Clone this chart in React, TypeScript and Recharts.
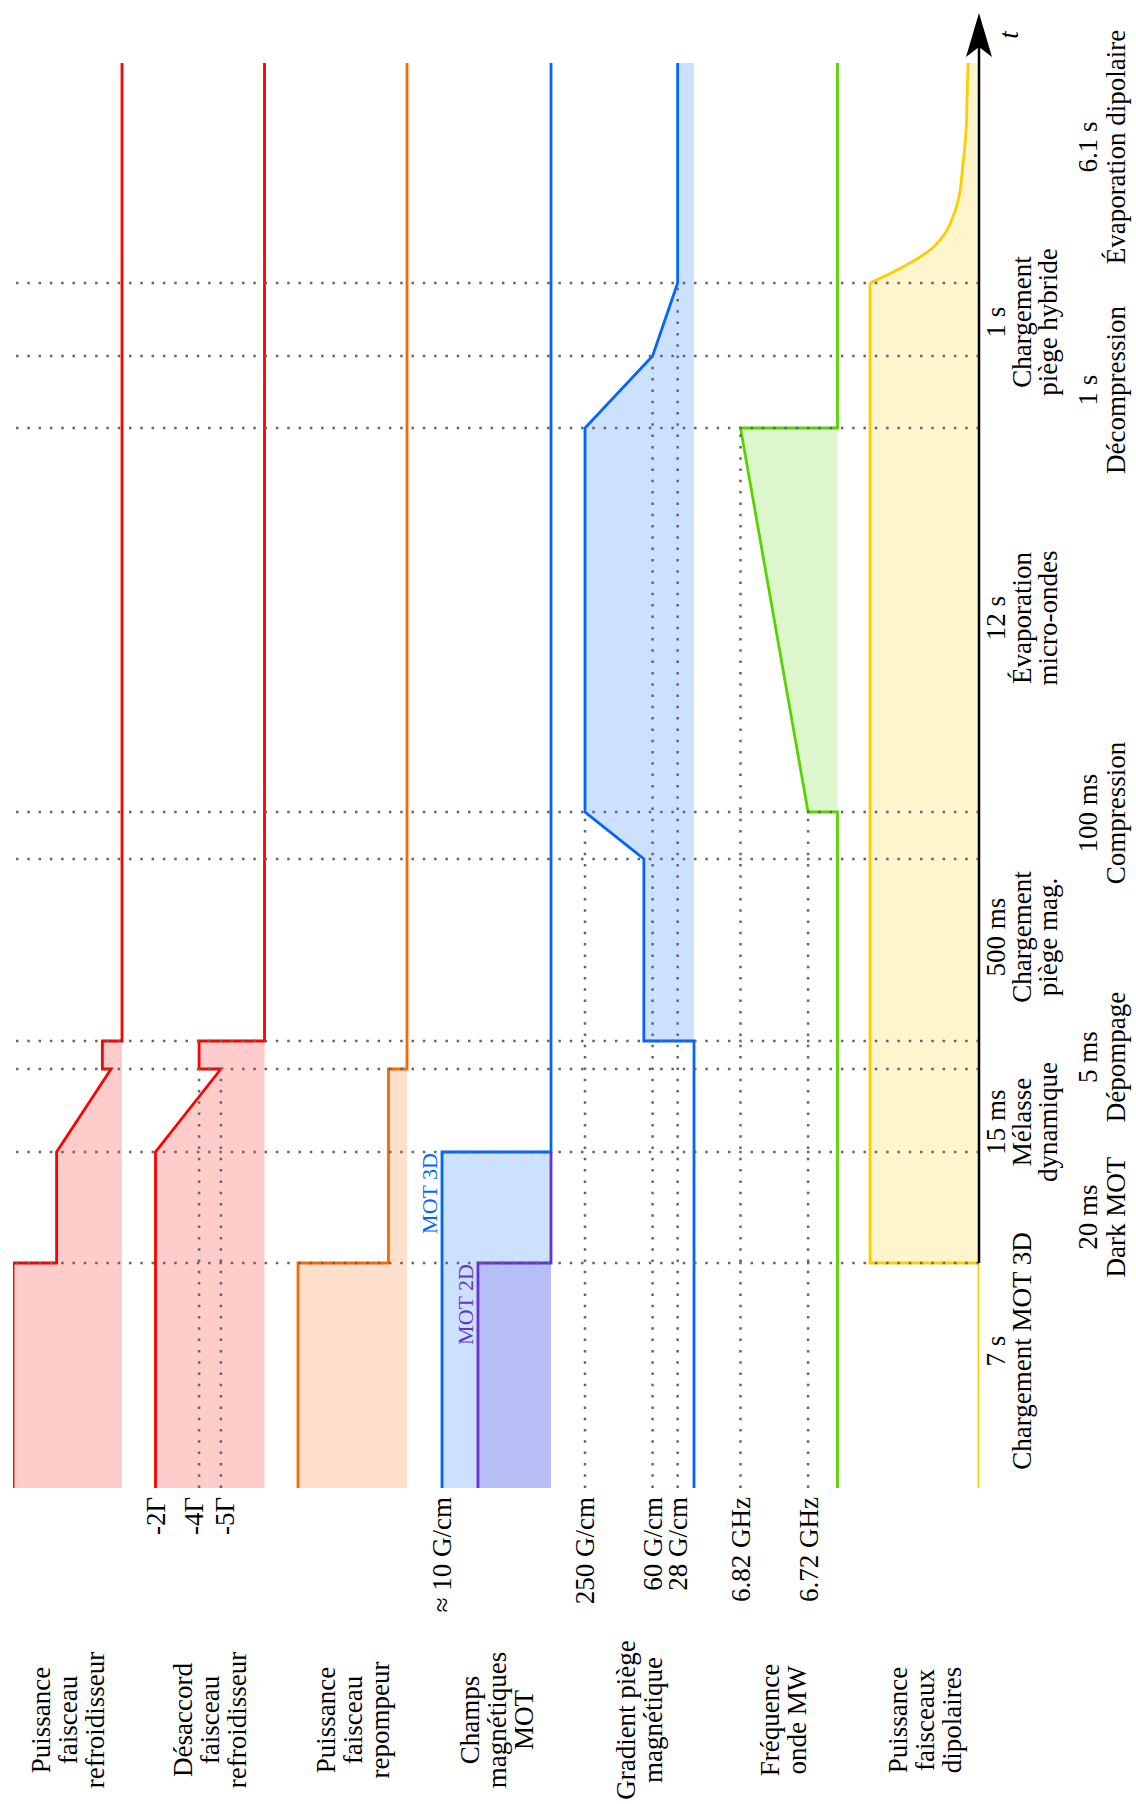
import { Area, ComposedChart, ReferenceDot, ReferenceLine, XAxis, YAxis } from 'recharts'

const FONT = '"Liberation Serif", "Times New Roman", serif'

// landscape canvas, rotated -90deg onto the 1136x1804 page
const W = 1804
const H = 1136
const PLOT_LEFT = 316
const PLOT_TOP = 13
const PLOT_BOTTOM = 979
const STRIP_H = 109

const RED = '#ff0000'
const ORANGE = '#ff6600'
const BLUE = '#0066ff'
const PURPLE = '#6633cc'
const GREEN = '#55d400'
const YELLOW = '#ffcc00'
const DOTS = '#666666'

// schematic time (a.u.): start, end of each phase, end of trace
const EVENTS = [0, 225, 336, 419, 447, 629, 676, 1060, 1132, 1205, 1425]
const T_ARROW = 1475

const PHASE_LABELS = [
  ['7 s', 'Chargement MOT 3D'],
  ['20 ms', 'Dark MOT'],
  ['15 ms', 'Mélasse', 'dynamique'],
  ['5 ms', 'Dépompage'],
  ['500 ms', 'Chargement', 'piège mag.'],
  ['100 ms', 'Compression'],
  ['12 s', 'Évaporation', 'micro-ondes'],
  ['1 s', 'Décompression'],
  ['1 s', 'Chargement', 'piège hybride'],
  ['6.1 s', 'Évaporation dipolaire'],
]
const PHASE_LABEL_AT = [137, 271, 366, 431, 551, 675, 870, 1098, 1166, 1341]

// puissance refroidisseur (%)
const coolingPower = [
  { t: 0, v: 100 }, { t: 225, v: 100 }, { t: 225, v: 60 }, { t: 336, v: 60 },
  { t: 419, v: 10 }, { t: 419, v: 18 }, { t: 447, v: 18 }, { t: 447, v: 0 }, { t: 1425, v: 0 },
]
// désaccord (Γ), -7 = coupé
const detuning = [
  { t: 0, v: -2 }, { t: 336, v: -2 }, { t: 419, v: -5 }, { t: 419, v: -4 },
  { t: 447, v: -4 }, { t: 447, v: -7 }, { t: 1425, v: -7 },
]
// puissance repompeur (%)
const repumpPower = [
  { t: 0, v: 100 }, { t: 225, v: 100 }, { t: 225, v: 17 }, { t: 419, v: 17 },
  { t: 419, v: 0 }, { t: 1425, v: 0 },
]
// champs MOT (G/cm)
const mot3d = [{ t: 0, v: 10 }, { t: 336, v: 10 }, { t: 336, v: 0 }, { t: 1425, v: 0 }]
const mot2d = [{ t: 0, v: 6.7 }, { t: 225, v: 6.7 }, { t: 225, v: 0 }, { t: 336, v: 0 }]
// gradient piège magnétique (a.u.)
const gradient = [
  { t: 0, v: 0 }, { t: 447, v: 0 }, { t: 447, v: 46 }, { t: 629, v: 46 }, { t: 676, v: 100 },
  { t: 1060, v: 100 }, { t: 1132, v: 38 }, { t: 1205, v: 15 }, { t: 1425, v: 15 },
]
// fréquence MW (a.u.)
const mwFreq = [
  { t: 0, v: 0 }, { t: 676, v: 0 }, { t: 676, v: 27 }, { t: 1060, v: 89 },
  { t: 1060, v: 0 }, { t: 1425, v: 0 },
]
// puissance dipolaire (%)
const dipoleStep = [{ t: 0, v: 0 }, { t: 225, v: 0 }, { t: 225, v: 100 }, { t: 1205, v: 100 }]
const dipoleRamp = [
  { t: 1205, v: 100 }, { t: 1221, v: 70 }, { t: 1238, v: 45 }, { t: 1255, v: 31 },
  { t: 1271, v: 24 }, { t: 1288, v: 19 }, { t: 1321, v: 15 }, { t: 1355, v: 12 },
  { t: 1388, v: 11 }, { t: 1425, v: 10 },
]

const CHANNELS = [
  { id: 'pow', top: 13, lo: 0, hi: 100, name: ['Puissance', 'faisceau', 'refroidisseur'] },
  { id: 'det', top: 155.5, lo: -7, hi: -2, name: ['Désaccord', 'faisceau', 'refroidisseur'] },
  { id: 'rep', top: 298, lo: 0, hi: 100, name: ['Puissance', 'faisceau', 'repompeur'] },
  { id: 'mot', top: 442, lo: 0, hi: 10, name: ['Champs', 'magnétiques', 'MOT'] },
  { id: 'grad', top: 585, lo: 0, hi: 100, name: ['Gradient piège', 'magnétique'] },
  { id: 'mw', top: 728.5, lo: 0, hi: 100, name: ['Fréquence', 'onde MW'] },
  { id: 'dip', top: 870, lo: 0, hi: 100, name: ['Puissance', 'faisceaux', 'dipolaires'] },
]

// value labels: axis, value, text, end of dotted guide (null = no guide), nudge
const VALUE_TICKS = [
  { axis: 'det', v: -2, text: '-2Γ', until: null, dy: 0 },
  { axis: 'det', v: -4, text: '-4Γ', until: 419, dy: -6 },
  { axis: 'det', v: -5, text: '-5Γ', until: 419, dy: 4 },
  { axis: 'mot', v: 10, text: '≈ 10 G/cm', until: null, dy: 0 },
  { axis: 'grad', v: 100, text: '250 G/cm', until: 676, dy: 0 },
  { axis: 'grad', v: 38, text: '60 G/cm', until: 1132, dy: 0 },
  { axis: 'grad', v: 15, text: '28 G/cm', until: 1205, dy: 0 },
  { axis: 'mw', v: 89, text: '6.82 GHz', until: 1060, dy: 0 },
  { axis: 'mw', v: 27, text: '6.72 GHz', until: 676, dy: 0 },
]

function stripDomain(top: number, lo: number, hi: number): [number, number] {
  const k = STRIP_H / (hi - lo)
  return [lo - (PLOT_BOTTOM - top - STRIP_H) / k, hi + (top - PLOT_TOP) / k]
}

function ValueLabel({ viewBox, text, dy }: any) {
  return (
    <text x={viewBox.x - 9} y={viewBox.y + dy} dy="0.35em" textAnchor="end"
      fontFamily={FONT} fontSize={27} fill="#000">
      {text}
    </text>
  )
}

function PhaseTick({ x, y, index }: any) {
  const lines = PHASE_LABELS[index] ?? []
  const rowB = index % 2 === 1
  return (
    <g>
      {lines.map((s, i) => (
        <text key={i} x={x} y={y + (rowB ? 118 + i * 28 : 26 + i * 26)} textAnchor="middle"
          fontFamily={FONT} fontSize={27} fill="#000">
          {s}
        </text>
      ))}
    </g>
  )
}

function Arrow({ cx, cy }: any) {
  return (
    <g>
      <polygon points={`${cx},${cy} ${cx - 44},${cy - 13} ${cx - 34},${cy} ${cx - 44},${cy + 13}`} fill="#000" />
      <text x={cx - 22} y={cy + 39} textAnchor="middle" fontFamily={FONT} fontStyle="italic" fontSize={27} fill="#000">
        t
      </text>
    </g>
  )
}

function MotTag(text: string, color: string) {
  return ({ cx, cy }: any) => (
    <text x={cx - 1} y={cy - 5} textAnchor="end" fontFamily={FONT} fontSize={22} fill={color}>
      {text}
    </text>
  )
}

const areaProps = { type: 'linear' as const, dataKey: 'v', strokeWidth: 2.8, fillOpacity: 0.2, dot: false, activeDot: false, isAnimationActive: false }

export default function App() {
  return (
    <div style={{ position: 'absolute', left: 0, top: 0, width: H, height: W, overflow: 'hidden', background: '#fff' }}>
      <div style={{ position: 'absolute', left: 0, top: W, width: W, height: H, transform: 'rotate(-90deg)', transformOrigin: '0 0' }}>
        <ComposedChart width={W} height={H} margin={{ top: PLOT_TOP, right: W - PLOT_LEFT - T_ARROW, bottom: 0, left: PLOT_LEFT }}>
          <XAxis dataKey="t" type="number" domain={[0, T_ARROW]} allowDataOverflow height={H - PLOT_BOTTOM}
            ticks={PHASE_LABEL_AT} interval={0} tick={PhaseTick} tickLine={false} tickSize={0} tickMargin={0}
            axisLine={false} />
          {CHANNELS.map((c) => (
            <YAxis key={c.id} yAxisId={c.id} hide type="number" allowDataOverflow domain={stripDomain(c.top, c.lo, c.hi)} />
          ))}

          {EVENTS.slice(1, -1).map((t) => (
            <ReferenceLine key={t} x={t} yAxisId="pow" stroke={DOTS} strokeWidth={2.5} strokeDasharray="2.5 8.8" />
          ))}
          {VALUE_TICKS.map((v) => (
            <ReferenceLine key={v.text} yAxisId={v.axis}
              {...(v.until === null ? { y: v.v } : { segment: [{ x: 0, y: v.v }, { x: v.until, y: v.v }] })}
              stroke={v.until === null ? 'none' : DOTS} strokeWidth={2.5} strokeDasharray="2.5 8.8"
              label={<ValueLabel text={v.text} dy={v.dy} />} />
          ))}
          {/* time axis: starts where the dipole trace leaves the baseline */}
          <ReferenceLine yAxisId="dip" segment={[{ x: EVENTS[1], y: 0 }, { x: T_ARROW - 20, y: 0 }]}
            stroke="#000" strokeWidth={2.5} ifOverflow="visible" />

          <Area {...areaProps} yAxisId="pow" data={coolingPower} stroke={RED} fill={RED} baseValue={0} />
          <Area {...areaProps} yAxisId="det" data={detuning} stroke={RED} fill={RED} baseValue={-7} />
          <Area {...areaProps} yAxisId="rep" data={repumpPower} stroke={ORANGE} fill={ORANGE} baseValue={0} />
          <Area {...areaProps} yAxisId="mot" data={mot3d} stroke={BLUE} fill={BLUE} baseValue={0} />
          <Area {...areaProps} yAxisId="mot" data={mot2d} stroke={PURPLE} fill={PURPLE} baseValue={0} />
          <Area {...areaProps} yAxisId="grad" data={gradient} stroke={BLUE} fill={BLUE} baseValue={0} />
          <Area {...areaProps} yAxisId="mw" data={mwFreq} stroke={GREEN} fill={GREEN} baseValue={0} />
          <Area {...areaProps} yAxisId="dip" data={dipoleStep} stroke={YELLOW} fill={YELLOW} baseValue={0} />
          <Area {...areaProps} type="monotone" yAxisId="dip" data={dipoleRamp} stroke={YELLOW} fill={YELLOW} baseValue={0} />

          <ReferenceDot yAxisId="mot" x={336} y={10} r={0} ifOverflow="visible" shape={MotTag('MOT 3D', BLUE)} />
          <ReferenceDot yAxisId="mot" x={225} y={6.7} r={0} ifOverflow="visible" shape={MotTag('MOT 2D', PURPLE)} />
          <ReferenceDot yAxisId="dip" x={T_ARROW} y={0} r={0} ifOverflow="visible" shape={Arrow} />
        </ComposedChart>

        <svg width={W} height={H} style={{ position: 'absolute', left: 0, top: 0, pointerEvents: 'none' }}>
          {CHANNELS.map((c) => {
            const mid = c.top + STRIP_H / 2
            return c.name.map((s, i) => (
              <text key={c.id + i} x={84} y={mid + 9 + (i - (c.name.length - 1) / 2) * 27}
                textAnchor="middle" fontFamily={FONT} fontSize={27} fill="#000">
                {s}
              </text>
            ))
          })}
        </svg>
      </div>
    </div>
  )
}
